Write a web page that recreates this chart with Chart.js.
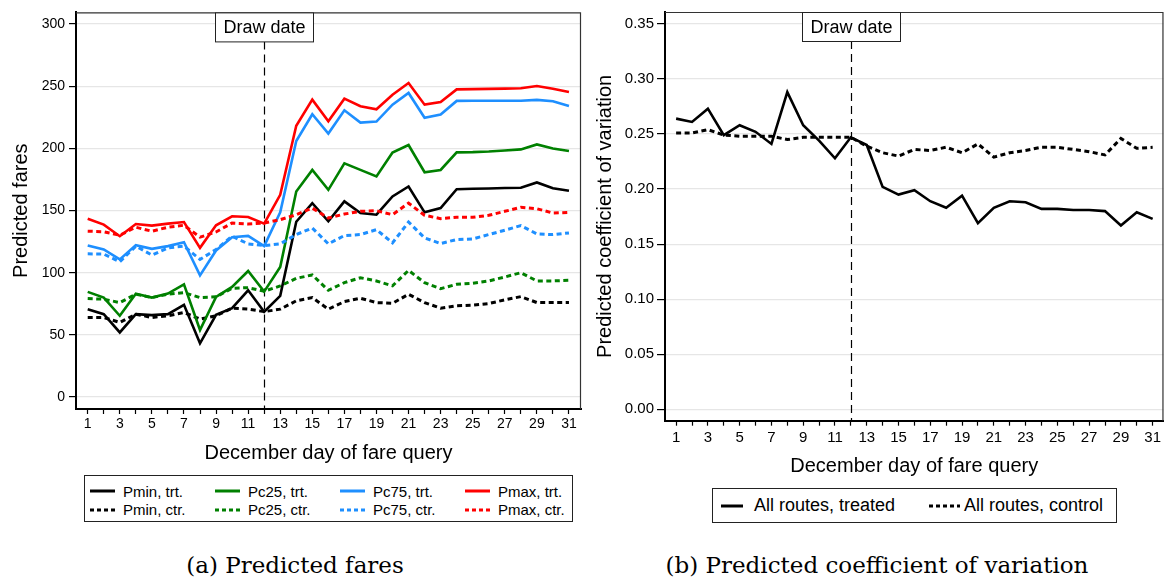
<!DOCTYPE html>
<html>
<head>
<meta charset="utf-8">
<script src="https://cdn.jsdelivr.net/npm/chart.js@4/dist/chart.umd.min.js"></script>
<style>
  body { margin: 0; background: #fff; }
  #page { position: relative; width: 1164px; height: 581px; overflow: hidden; background: #fff;
          font-family: "Liberation Sans", Arial, sans-serif; color: #000; }
  canvas { position: absolute; top: 0; }
  .legend { position: absolute; border: 1px solid #222; box-sizing: border-box; background: #fff; }
  .item { position: absolute; display: flex; align-items: center; white-space: nowrap; height: 20px; }
  .item svg { display: block; }
  .caption { position: absolute; top: 551px; font-family: "DejaVu Serif", serif; font-size: 23px;
             line-height: 28px; text-align: center; white-space: nowrap; }
</style>
</head>
<body>
<div id="page">
  <canvas id="fares" width="590" height="470" style="left:0"></canvas>
  <canvas id="cv" width="574" height="490" style="left:590px"></canvas>
  <div id="legendFares" class="legend" style="left:84px; top:475px; width:489px; height:47px; font-size:15px"></div>
  <div id="legendCv" class="legend" style="left:712px; top:488px; width:405px; height:35px; font-size:18px"></div>
  <div class="caption" style="left:0; width:590px">(a) Predicted fares</div>
  <div class="caption" style="left:590px; width:574px">(b) Predicted coefficient of variation</div>
</div>
<script>
const family = "'Liberation Sans', Arial, sans-serif";

// December day of fare query
const days = [1, 2, 3, 4, 5, 6, 7, 8, 9, 10, 11, 12, 13, 14, 15, 16,
              17, 18, 19, 20, 21, 22, 23, 24, 25, 26, 27, 28, 29, 30, 31];
const drawDay = 12;
const fareTicks = [0, 50, 100, 150, 200, 250, 300];
const cvTicks = [0, 0.05, 0.10, 0.15, 0.20, 0.25, 0.30, 0.35];

// (a) predicted fares, treated and control routes
const pminTrt = [70.7, 66.7, 52.0, 66.7, 65.9, 66.7, 74.2, 43.2, 66.2, 71.5, 85.9, 68.6, 81.4, 141.0, 156.0, 141.4,
                 157.4, 148.0, 146.7, 161.4, 169.4, 148.6, 152.0, 167.2, 167.5, 167.8, 168.1, 168.4, 172.6, 168.0, 165.9];
const pminCtr = [64.0, 64.0, 60.0, 66.7, 64.0, 65.4, 68.0, 62.7, 65.4, 71.5, 70.7, 68.7, 70.7, 77.4, 80.0, 70.7,
                 76.8, 79.5, 76.0, 75.4, 82.7, 76.0, 71.5, 73.4, 73.9, 75.2, 78.2, 80.8, 76.0, 76.0, 76.0];
const pc25Trt = [84.6, 80.0, 65.4, 83.2, 80.0, 83.2, 90.7, 53.9, 80.6, 88.6, 101.4, 84.8, 104.6, 165.4, 182.7, 166.7,
                 188.0, 182.7, 177.4, 196.6, 202.7, 180.8, 182.7, 196.8, 197.0, 197.5, 198.3, 199.2, 203.2, 200.0, 197.9];
const pc25Ctr = [79.2, 78.7, 76.0, 82.7, 80.0, 82.7, 84.0, 80.0, 80.6, 87.5, 88.0, 85.1, 89.4, 95.5, 98.2, 85.9,
                 92.0, 96.0, 93.4, 89.4, 101.9, 92.0, 87.2, 90.7, 91.5, 93.4, 96.6, 100.0, 93.4, 93.4, 93.9];
const pc75Trt = [121.9, 118.7, 110.7, 122.2, 119.2, 121.4, 124.6, 97.9, 117.9, 128.6, 129.6, 121.4, 148.6, 205.9, 227.5, 212.0,
                 230.7, 220.8, 221.6, 235.2, 244.6, 224.6, 227.2, 238.2, 238.3, 238.3, 238.3, 238.3, 239.0, 238.0, 234.2];
const pc75Ctr = [115.2, 115.0, 108.8, 121.4, 114.2, 120.0, 121.4, 110.7, 118.7, 129.4, 123.2, 121.8, 123.2, 130.7, 136.0, 123.2,
                 129.9, 130.7, 134.7, 124.0, 140.8, 128.0, 123.5, 126.7, 127.2, 130.7, 134.2, 137.9, 131.2, 130.7, 132.0];
const pmaxTrt = [143.5, 138.7, 129.4, 139.2, 137.9, 139.5, 140.8, 120.0, 138.2, 145.4, 144.8, 139.5, 162.7, 218.2, 239.2, 221.9,
                 240.0, 233.9, 231.5, 243.2, 252.6, 235.2, 237.4, 247.5, 247.7, 247.9, 248.1, 248.4, 250.2, 248.0, 245.4];
const pmaxCtr = [133.4, 133.0, 130.2, 136.6, 133.4, 136.6, 138.2, 128.6, 132.8, 140.0, 139.2, 140.0, 142.7, 146.7, 152.0, 144.0,
                 147.2, 149.4, 149.9, 146.7, 156.0, 146.2, 143.5, 144.6, 144.6, 146.2, 149.4, 152.6, 151.5, 148.0, 148.6];

// (b) predicted coefficient of variation
const cvTrt = [0.264, 0.261, 0.273, 0.249, 0.258, 0.252, 0.241, 0.288, 0.258, 0.244, 0.228, 0.247, 0.240, 0.202, 0.195, 0.199,
               0.189, 0.183, 0.194, 0.169, 0.183, 0.189, 0.188, 0.182, 0.182, 0.181, 0.181, 0.180, 0.167, 0.179, 0.173];
const cvCtr = [0.251, 0.251, 0.254, 0.249, 0.248, 0.248, 0.248, 0.245, 0.247, 0.247, 0.247, 0.247, 0.239, 0.233, 0.230, 0.236,
               0.235, 0.238, 0.233, 0.241, 0.229, 0.233, 0.235, 0.238, 0.238, 0.236, 0.234, 0.231, 0.246, 0.237, 0.238];

const fareSeries = [
  { name: "Pmin", color: "#000000", trt: pminTrt, ctr: pminCtr },
  { name: "Pc25", color: "#008000", trt: pc25Trt, ctr: pc25Ctr },
  { name: "Pc75", color: "#1e8fff", trt: pc75Trt, ctr: pc75Ctr },
  { name: "Pmax", color: "#ff0000", trt: pmaxTrt, ctr: pmaxCtr },
];
const cvSeries = [
  { label: "All routes, treated", values: cvTrt, dashed: false },
  { label: "All routes, control", values: cvCtr, dashed: true },
];

const DASH = [5, 3.5];

function points(values) {
  return days.map((d, i) => ({ x: d, y: values[i] }));
}

function lineSet(label, values, color, dashed, order) {
  return {
    label,
    data: points(values),
    borderColor: color,
    borderWidth: dashed ? 3 : 2.6,
    borderDash: dashed ? DASH : [],
    pointRadius: 0,
    tension: 0,
    fill: false,
    order,
  };
}

// top/right frame, dashed draw-date line and its label box
const drawDatePlugin = {
  id: "drawDate",
  beforeDatasetsDraw(chart) {
    const { ctx, chartArea: a, scales: { x } } = chart;
    const px = Math.round(x.getPixelForValue(drawDay)) + 0.5;
    ctx.save();
    ctx.strokeStyle = "#000";
    ctx.lineWidth = 1.2;
    ctx.setLineDash([8, 5]);
    ctx.beginPath();
    ctx.moveTo(px, a.top + 29);
    ctx.lineTo(px, a.bottom);
    ctx.stroke();
    ctx.restore();
  },
  afterDatasetsDraw(chart) {
    const { ctx, chartArea: a, scales: { x } } = chart;
    ctx.save();
    ctx.strokeStyle = "#333";
    ctx.lineWidth = 1.2;
    ctx.beginPath();
    ctx.moveTo(a.left, a.top + 0.5);
    ctx.lineTo(a.right - 0.5, a.top + 0.5);
    ctx.lineTo(a.right - 0.5, a.bottom);
    ctx.stroke();

    const px = Math.round(x.getPixelForValue(drawDay)) + 0.5;
    const w = 98, h = 29;
    ctx.fillStyle = "#fff";
    ctx.fillRect(px - w / 2, a.top + 0.5, w, h);
    ctx.strokeStyle = "#222";
    ctx.lineWidth = 1;
    ctx.strokeRect(px - w / 2, a.top + 0.5, w, h);
    ctx.fillStyle = "#000";
    ctx.font = "18px " + family;
    ctx.textAlign = "center";
    ctx.textBaseline = "middle";
    ctx.fillText("Draw date", px, a.top + h / 2 + 1.5);
    ctx.restore();
  },
};

function buildOptions(cfg) {
  return {
    responsive: false,
    animation: false,
    layout: { padding: { top: 10, left: 0, right: cfg.padRight, bottom: 0 } },
    plugins: { legend: { display: false }, tooltip: { enabled: false } },
    scales: {
      x: {
        type: "linear",
        min: cfg.xMin,
        max: cfg.xMax,
        afterBuildTicks: (s) => { s.ticks = days.map((v) => ({ value: v })); },
        afterFit: (s) => { s.height = cfg.xHeight; },
        grid: { drawOnChartArea: false, drawTicks: true, tickLength: 5, tickColor: "#000", tickWidth: 1.2 },
        border: { color: "#000", width: 2 },
        ticks: {
          autoSkip: false, maxRotation: 0, padding: cfg.xTickPad, color: "#000",
          font: { size: cfg.tickSize, family },
          callback: (v) => (v % 2 === 1 ? String(v) : ""),
        },
        title: {
          display: true, text: "December day of fare query", color: "#000",
          font: { size: 20, family }, padding: { top: 0, bottom: cfg.xTitlePad },
        },
      },
      y: {
        type: "linear",
        min: cfg.yMin,
        max: cfg.yMax,
        afterBuildTicks: (s) => { s.ticks = cfg.yTicks.map((v) => ({ value: v })); },
        afterFit: (s) => { s.width = cfg.yWidth; },
        grid: { color: "#e6e6e6", lineWidth: 1.2, tickColor: "#000", tickLength: cfg.yTickLen, tickWidth: 1.2 },
        border: { color: "#000", width: 2 },
        ticks: {
          padding: cfg.yTickPad, color: "#000", font: { size: cfg.tickSize, family },
          callback: cfg.yFormat,
        },
        title: {
          display: true, text: cfg.yTitle, color: "#000",
          font: { size: 20, family }, padding: { top: cfg.yTitlePad, bottom: 0 },
        },
      },
    },
  };
}

// (a) fares chart
const fareDatasets = [];
fareSeries.forEach((s) => {
  fareDatasets.push(lineSet(s.name + ", trt.", s.trt, s.color, false, -fareDatasets.length));
  fareDatasets.push(lineSet(s.name + ", ctr.", s.ctr, s.color, true, -fareDatasets.length));
});

new Chart(document.getElementById("fares"), {
  type: "line",
  data: { datasets: fareDatasets },
  options: buildOptions({
    padRight: 9, xMin: 0.27, xMax: 31.75, xHeight: 61, xTickPad: 2, xTitlePad: 5,
    yMin: -9.6, yMax: 309.4, yTicks: fareTicks, yWidth: 76, yTickLen: 7, yTickPad: 4,
    tickSize: 14, yTitle: "Predicted fares", yTitlePad: 9,
    yFormat: (v) => String(v),
  }),
  plugins: [drawDatePlugin],
});

// (b) coefficient of variation chart
new Chart(document.getElementById("cv"), {
  type: "line",
  data: {
    datasets: cvSeries.map((s, i) => lineSet(s.label, s.values, "#000", s.dashed, -i)),
  },
  options: buildOptions({
    padRight: 0, xMin: 0.3, xMax: 31.68, xHeight: 69.3, xTickPad: 3, xTitlePad: 12,
    yMin: -0.0103, yMax: 0.3608, yTicks: cvTicks, yWidth: 75, yTickLen: 8, yTickPad: 3,
    tickSize: 15, yTitle: "Predicted coefficient of variation", yTitlePad: 3,
    yFormat: (v) => v.toFixed(2),
  }),
  plugins: [drawDatePlugin],
});

// legends
function sample(color, dashed, width) {
  const dash = dashed ? ' stroke-dasharray="4 3"' : "";
  return '<svg width="' + width + '" height="6"><line x1="0" y1="3" x2="' + width + '" y2="3" stroke="' +
    color + '" stroke-width="3"' + dash + "/></svg>";
}

const legendFares = document.getElementById("legendFares");
fareSeries.forEach((s, i) => {
  [["trt.", false, 5], ["ctr.", true, 23.6]].forEach(([tag, dashed, top]) => {
    const el = document.createElement("div");
    el.className = "item";
    el.style.left = (5 + 125 * i) + "px";
    el.style.top = top + "px";
    el.innerHTML = sample(s.color, dashed, 25) + '<span style="margin-left:8px">' + s.name + ", " + tag + "</span>";
    legendFares.appendChild(el);
  });
});

const legendCv = document.getElementById("legendCv");
const cvLegendPos = [{ left: 8, w: 22, gap: 11 }, { left: 216, w: 31, gap: 4 }];
cvSeries.forEach((s, i) => {
  const p = cvLegendPos[i];
  const el = document.createElement("div");
  el.className = "item";
  el.style.left = p.left + "px";
  el.style.top = "6.5px";
  el.innerHTML = sample("#000", s.dashed, p.w) + '<span style="margin-left:' + p.gap + 'px">' + s.label + "</span>";
  legendCv.appendChild(el);
});
</script>
</body>
</html>
